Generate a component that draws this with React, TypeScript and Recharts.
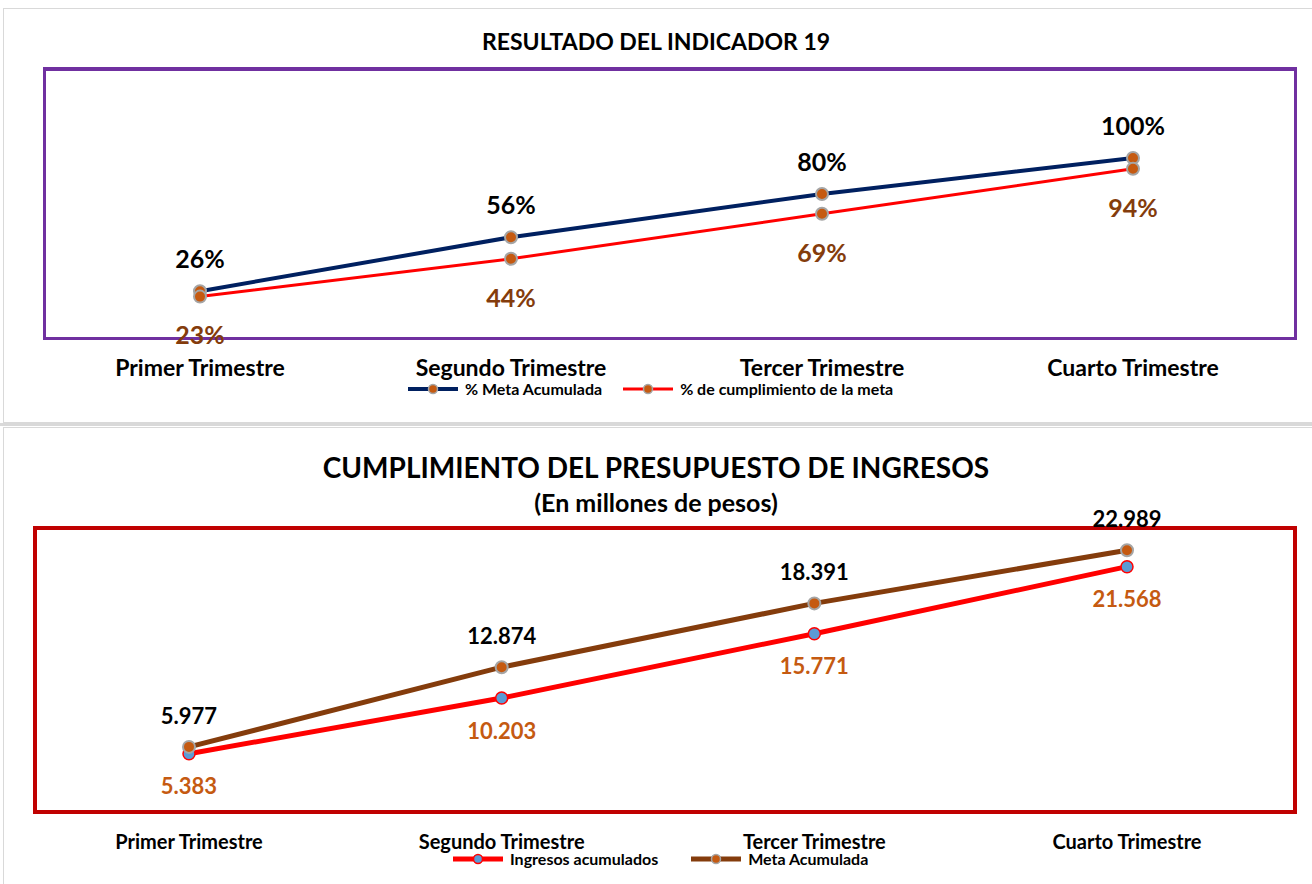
import { LineChart, Line, XAxis, YAxis, LabelList, Legend } from "recharts"

const trimestres = ["Primer Trimestre", "Segundo Trimestre", "Tercer Trimestre", "Cuarto Trimestre"]

// Indicador 19 (porcentajes)
const metaAcumuladaPct = [26, 56, 80, 100]
const cumplimientoPct = [23, 44, 69, 94]

// Presupuesto de ingresos (millones de pesos)
const ingresosAcumulados = [5383, 10203, 15771, 21568]
const metaAcumulada = [5977, 12874, 18391, 22989]

const FONT = "Lato, 'Open Sans', sans-serif"

const indicadorData = trimestres.map((t, i) => ({
  name: t,
  meta: metaAcumuladaPct[i],
  cumplimiento: cumplimientoPct[i],
}))

const ingresosData = trimestres.map((t, i) => ({
  name: t,
  ingresos: ingresosAcumulados[i],
  meta: metaAcumulada[i],
}))

const fmtMiles = (v: any) => String(v).replace(/\B(?=(\d{3})+(?!\d))/g, ".")

type LegendItem = { label: string; line: string; fill: string; stroke: string; width: number }

function LegendRow({ items, gap }: { items: LegendItem[]; gap: number }) {
  return (
    <div style={{ display: "flex", alignItems: "center", gap, fontFamily: FONT, fontWeight: 700, color: "#000" }}>
      {items.map((it) => (
        <div key={it.label} style={{ display: "flex", alignItems: "center", gap: 6 }}>
          <svg width={52} height={14}>
            <line x1={1} y1={7} x2={51} y2={7} stroke={it.line} strokeWidth={it.width} />
            <circle cx={26} cy={7} r={4.5} fill={it.fill} stroke={it.stroke} strokeWidth={1.5} />
          </svg>
          <span style={{ fontSize: 16, whiteSpace: "nowrap" }}>{it.label}</span>
        </div>
      ))}
    </div>
  )
}

export default function App() {
  return (
    <div style={{ position: "absolute", left: 0, top: 0, width: 1312, height: 884, background: "#fff", overflow: "hidden" }}>
      {/* marcos de los paneles */}
      <div style={{ position: "absolute", left: 3, top: 8, width: 1320, height: 413, border: "1px solid #d9d9d9" }} />
      <div style={{ position: "absolute", left: 0, top: 423, width: 1312, height: 3, background: "#d9d9d9" }} />
      <div style={{ position: "absolute", left: 3, top: 427, width: 1320, height: 470, border: "1px solid #d9d9d9" }} />

      {/* Panel 1 */}
      <div style={{ position: "absolute", left: 0, top: 27, width: 1312, textAlign: "center", fontFamily: FONT, fontWeight: 700, fontSize: 23 }}>
        RESULTADO DEL INDICADOR 19
      </div>
      <div style={{ position: "absolute", left: 43, top: 67, width: 1248, height: 266, border: "3px solid #7030A0", borderTopWidth: 4 }} />

      <div style={{ position: "absolute", left: 0, top: 0 }}>
        <LineChart width={1312} height={422} data={indicadorData} margin={{ top: 68, left: 44, right: 15, bottom: 54 }}>
          <XAxis
            dataKey="name"
            axisLine={false}
            tickLine={false}
            interval={0}
            padding={{ left: 156, right: 164 }}
            tick={{ fill: "#000", fontFamily: FONT, fontWeight: 700, fontSize: 23 }}
            dy={14}
          />
          <YAxis hide domain={[0, 150]} />
          <Legend
            layout="horizontal"
            verticalAlign="middle"
            align="center"
            wrapperStyle={{ top: 379, left: 407, width: "auto" }}
            content={() => (
              <LegendRow
                gap={20}
                items={[
                  { label: "% Meta Acumulada", line: "#002060", fill: "#C55A11", stroke: "#A5A5A5", width: 4 },
                  { label: "% de cumplimiento de la meta", line: "#FF0000", fill: "#C55A11", stroke: "#A5A5A5", width: 3 },
                ]}
              />
            )}
          />
          <Line
            dataKey="meta"
            name="% Meta Acumulada"
            stroke="#002060"
            strokeWidth={4}
            dot={{ r: 6, fill: "#C55A11", stroke: "#A5A5A5", strokeWidth: 2 }}
            activeDot={false}
            isAnimationActive={false}
          >
            <LabelList dataKey="meta" position="top" offset={23} formatter={(v: any) => `${v}%`} fill="#000" fontFamily={FONT} fontWeight={700} fontSize={25} />
          </Line>
          <Line
            dataKey="cumplimiento"
            name="% de cumplimiento de la meta"
            stroke="#FF0000"
            strokeWidth={3}
            dot={{ r: 6, fill: "#C55A11", stroke: "#A5A5A5", strokeWidth: 2 }}
            activeDot={false}
            isAnimationActive={false}
          >
            <LabelList dataKey="cumplimiento" position="bottom" offset={30} formatter={(v: any) => `${v}%`} fill="#843C0C" fontFamily={FONT} fontWeight={700} fontSize={25} />
          </Line>
        </LineChart>
      </div>

      {/* Panel 2 */}
      <div style={{ position: "absolute", left: 0, top: 450, width: 1312, textAlign: "center", fontFamily: FONT, fontWeight: 700, fontSize: 28 }}>
        CUMPLIMIENTO DEL PRESUPUESTO DE INGRESOS
      </div>
      <div style={{ position: "absolute", left: 0, top: 487, width: 1312, textAlign: "center", fontFamily: FONT, fontWeight: 700, fontSize: 25 }}>
        (En millones de pesos)
      </div>
      <div style={{ position: "absolute", left: 33, top: 526, width: 1256, height: 280, border: "4px solid #C00000" }} />

      <div style={{ position: "absolute", left: 0, top: 427 }}>
        <LineChart width={1312} height={457} data={ingresosData} margin={{ top: 100, left: 33, right: 15, bottom: 38 }}>
          <XAxis
            dataKey="name"
            axisLine={false}
            tickLine={false}
            interval={0}
            padding={{ left: 156, right: 170 }}
            tick={{ fill: "#000", fontFamily: FONT, fontWeight: 700, fontSize: 20 }}
            dy={11}
          />
          <YAxis hide domain={[0, 25000]} />
          <Legend
            layout="horizontal"
            verticalAlign="middle"
            align="center"
            wrapperStyle={{ top: 422, left: 452, width: "auto" }}
            content={() => (
              <LegendRow
                gap={32}
                items={[
                  { label: "Ingresos acumulados", line: "#FF0000", fill: "#5B9BD5", stroke: "#FF0000", width: 5 },
                  { label: "Meta Acumulada", line: "#843C0C", fill: "#C55A11", stroke: "#A5A5A5", width: 5 },
                ]}
              />
            )}
          />
          <Line
            dataKey="ingresos"
            name="Ingresos acumulados"
            stroke="#FF0000"
            strokeWidth={5}
            dot={{ r: 6, fill: "#5B9BD5", stroke: "#FF0000", strokeWidth: 1.5 }}
            activeDot={false}
            isAnimationActive={false}
          >
            <LabelList dataKey="ingresos" position="bottom" offset={25} formatter={fmtMiles} fill="#C55A11" fontFamily={FONT} fontWeight={700} fontSize={22} />
          </Line>
          <Line
            dataKey="meta"
            name="Meta Acumulada"
            stroke="#843C0C"
            strokeWidth={5}
            dot={{ r: 6, fill: "#C55A11", stroke: "#A5A5A5", strokeWidth: 2 }}
            activeDot={false}
            isAnimationActive={false}
          >
            <LabelList dataKey="meta" position="top" offset={23} formatter={fmtMiles} fill="#000" fontFamily={FONT} fontWeight={700} fontSize={22} />
          </Line>
        </LineChart>
      </div>
    </div>
  )
}
